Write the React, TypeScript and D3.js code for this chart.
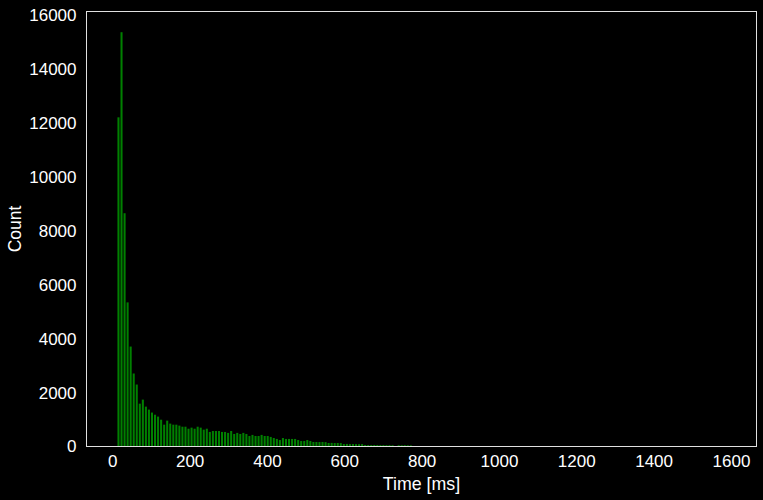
import React from "react";
import { scaleLinear, max, range } from "d3";

// histogram of response times, 200 equal bins between the min and max sample
const timeMin = 10.8;
const timeMax = 1586;
const binCounts = [
  12220, 15380, 8660, 5350, 3710, 2710, 2300, 1590, 1740, 1480, 1370, 1260, 1180, 1110, 995, 810, 960, 850, 810, 810,
  775, 735, 735, 660, 700, 660, 735, 700, 625, 660, 540, 575, 575, 575, 540, 540, 505, 575, 465, 505,
  465, 505, 465, 390, 430, 390, 390, 430, 390, 390, 355, 315, 280, 240, 315, 280, 280, 280, 280, 240,
  205, 205, 240, 205, 168, 168, 165, 168, 162, 130, 133, 128, 130, 126, 92, 95, 90, 92, 88, 86,
  90, 55, 54, 52, 56, 53, 50, 52, 48, 50, 47, 10, 49, 45, 47, 44, 42, 15, 8, 5,
  3, 2, 2, 0, 1, 0, 1, 0, 0, 1, 0, 0, 0, 1, 0, 0, 0, 0, 0, 0,
  0, 0, 0, 0, 0, 0, 0, 0, 0, 0, 0, 0, 0, 0, 0, 0, 0, 0, 0, 0,
  0, 0, 0, 0, 0, 0, 0, 0, 0, 0, 0, 0, 0, 0, 0, 0, 0, 0, 0, 0,
  0, 0, 0, 0, 0, 0, 0, 0, 0, 0, 0, 0, 0, 0, 0, 0, 0, 0, 0, 0,
  0, 0, 0, 0, 0, 0, 0, 0, 0, 0, 0, 0, 0, 0, 0, 0, 0, 0, 0, 1,
];
const xTicks = [0, 200, 400, 600, 800, 1000, 1200, 1400, 1600];
const yTicks = [0, 2000, 4000, 6000, 8000, 10000, 12000, 14000, 16000];

const W = 763;
const H = 500;
const margin = { top: 11.5, right: 6.5, bottom: 53.5, left: 86.5 };
const font = "'Liberation Sans', Arial, sans-serif";

const App: React.FC = () => {
  const span = timeMax - timeMin;
  const binW = span / binCounts.length;

  const x = scaleLinear()
    .domain([timeMin - span * 0.05, timeMax + span * 0.05])
    .range([margin.left, W - margin.right]);
  const y = scaleLinear()
    .domain([0, (max(binCounts) || 0) * 1.05])
    .range([H - margin.bottom, margin.top]);

  const barPx = x(timeMin + binW) - x(timeMin);

  return (
    <>
      <style>{`body{margin:0;background:#000}`}</style>
      <svg width={W} height={H} style={{ display: "block", background: "#000" }}>
        <rect x={0} y={0} width={W} height={H} fill="#000" />
        {range(binCounts.length).map((i) =>
          binCounts[i] > 0 ? (
            <rect
              key={i}
              x={x(timeMin + i * binW) + 0.5}
              y={y(binCounts[i])}
              width={barPx - 1}
              height={y(0) - y(binCounts[i])}
              fill="#008000"
            />
          ) : null
        )}
        <rect
          x={margin.left}
          y={margin.top}
          width={W - margin.left - margin.right}
          height={H - margin.top - margin.bottom}
          fill="none"
          stroke="#e0e0e0"
          strokeWidth={1}
        />
        {xTicks.map((t) => (
          <text
            key={t}
            x={x(t)}
            y={y(0) + 20.5}
            textAnchor="middle"
            fill="#fff"
            fontSize={17}
            fontFamily={font}
          >
            {t}
          </text>
        ))}
        {yTicks.map((t) => (
          <text
            key={t}
            x={margin.left - 10}
            y={y(t)}
            dy="0.35em"
            textAnchor="end"
            fill="#fff"
            fontSize={17}
            fontFamily={font}
          >
            {t}
          </text>
        ))}
        <text
          x={(margin.left + W - margin.right) / 2}
          y={489.5}
          textAnchor="middle"
          fill="#fff"
          fontSize={17.8}
          fontFamily={font}
        >
          Time [ms]
        </text>
        <text
          transform={`translate(21,${(margin.top + H - margin.bottom) / 2}) rotate(-90)`}
          textAnchor="middle"
          fill="#fff"
          fontSize={17.5}
          fontFamily={font}
        >
          Count
        </text>
      </svg>
    </>
  );
};

export default App;
